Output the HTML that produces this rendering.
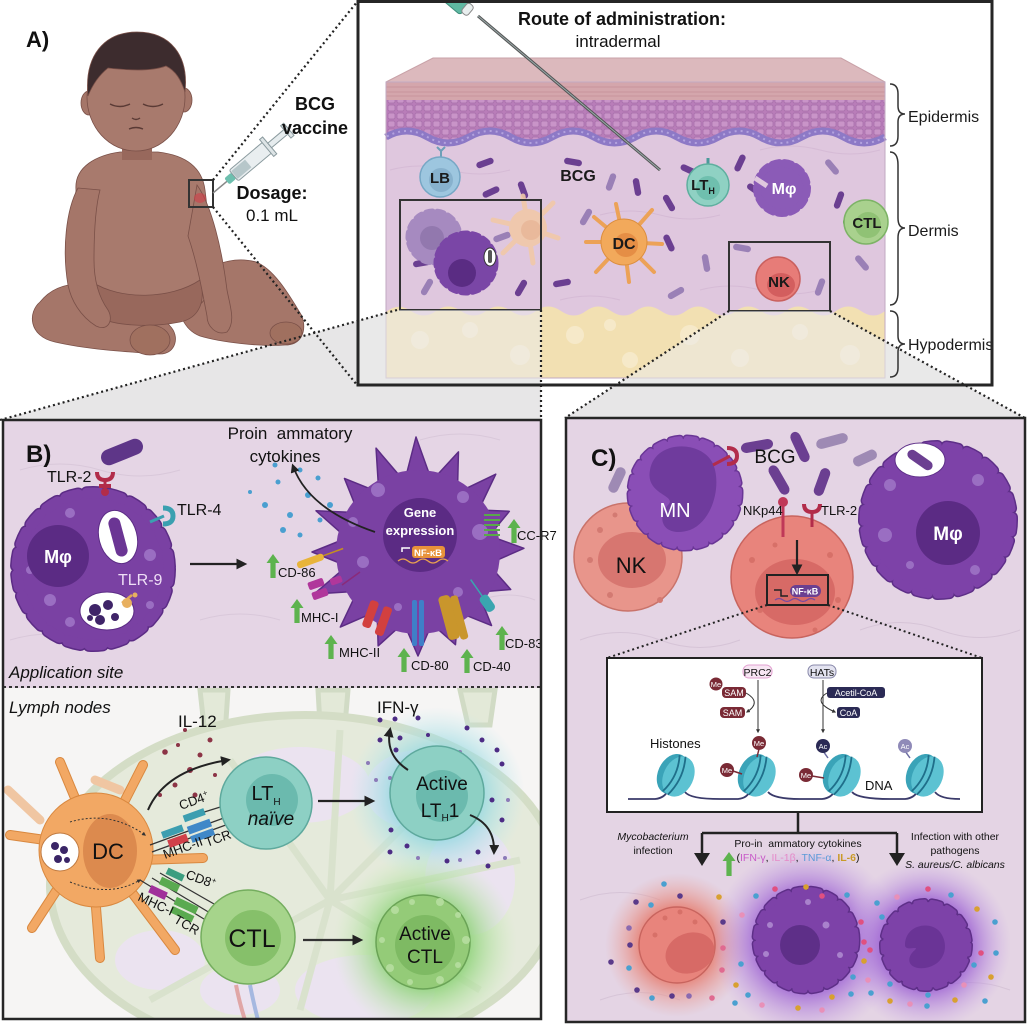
<!DOCTYPE html>
<html><head><meta charset="utf-8">
<style>
html,body{margin:0;padding:0;background:#fff;}
svg{display:block;font-family:"Liberation Sans",Arial,sans-serif;}
</style></head><body>
<svg width="1027" height="1024" viewBox="0 0 1027 1024" xmlns="http://www.w3.org/2000/svg">
<defs>
 <pattern id="cells" width="9" height="8" patternUnits="userSpaceOnUse">
   <rect width="9" height="8" fill="#b97db9"/>
   <rect x="1" y="1" width="7" height="6" rx="1.5" fill="#c994c8" stroke="#a66ea9" stroke-width="0.7"/>
 </pattern>
 <radialGradient id="gCyan"><stop offset="0.45" stop-color="#8fd6df" stop-opacity="0.9"/><stop offset="1" stop-color="#bfe9ee" stop-opacity="0"/></radialGradient>
 <radialGradient id="gGreen"><stop offset="0.45" stop-color="#8fd27a" stop-opacity="0.95"/><stop offset="1" stop-color="#c8ecb8" stop-opacity="0"/></radialGradient>
 <radialGradient id="gRed"><stop offset="0.5" stop-color="#e77f72" stop-opacity="0.9"/><stop offset="1" stop-color="#e9a7a0" stop-opacity="0"/></radialGradient>
 <radialGradient id="gPurp"><stop offset="0.5" stop-color="#9b5fd2" stop-opacity="0.9"/><stop offset="1" stop-color="#c9a6e6" stop-opacity="0"/></radialGradient>
 <marker id="ah" viewBox="0 0 10 10" refX="7" refY="5" markerWidth="5" markerHeight="5" orient="auto"><path d="M0,0 L10,5 L0,10 Z" fill="#222"/></marker>
 <marker id="ahs" viewBox="0 0 10 10" refX="7" refY="5" markerWidth="4" markerHeight="4" orient="auto"><path d="M0,0 L10,5 L0,10 Z" fill="#333"/></marker>
 <g id="ga"><path d="M-2.6,0 L2.6,0 L2.6,-15 L6.5,-15 L0,-24 L-6.5,-15 L-2.6,-15 Z" fill="#5db34e"/></g>
 <g id="rod"><rect x="-9" y="-3.2" width="18" height="6.4" rx="3.2"/></g>
 <clipPath id="clipBL"><rect x="3" y="688" width="537" height="331"/></clipPath>
 <clipPath id="clipC"><rect x="566" y="419" width="458" height="602"/></clipPath>
 <clipPath id="clipA"><rect x="358" y="2" width="634" height="383"/></clipPath>
</defs>

<rect width="1027" height="1024" fill="#fff"/>

<!-- ============ PANEL A ============ -->
<rect x="358" y="1.5" width="634" height="383.5" fill="#fff"/>
<!-- gray projections (opaque) -->
<polygon points="0,420 397,310 541,310 541,420" fill="#e7e6e7"/>
<polygon points="729,311 830,311 1025,418 565,418" fill="#e7e6e7"/>

<!-- skin block -->
<polygon points="386,82 433,58 841,58 885,82" fill="#dcb9bd" stroke="#c9a2a8" stroke-width="1"/>
<rect x="386" y="82" width="499" height="296" fill="#dfc7de"/>
<rect x="386" y="82" width="499" height="18" fill="#d4a6ac"/>
<path d="M386,87 H885 M386,92 H885 M386,96 H885" stroke="#c48f98" stroke-width="0.8"/>
<path d="M386,100 L885,100 L885,140 Q864,152 843.4,140 T801.8,140 T760.2,140 T718.6,140 T677,140 T635.4,140 T593.8,140 T552.2,140 T510.6,140 T469,140 T427.4,140 T386,140 Z" fill="url(#cells)"/>
<path d="M885,137 Q864,149 843.4,137 T801.8,137 T760.2,137 T718.6,137 T677,137 T635.4,137 T593.8,137 T552.2,137 T510.6,137 T469,137 T427.4,137 T386,137" fill="none" stroke="#8d79c6" stroke-width="7"/>
<path d="M885,137 Q864,149 843.4,137 T801.8,137 T760.2,137 T718.6,137 T677,137 T635.4,137 T593.8,137 T552.2,137 T510.6,137 T469,137 T427.4,137 T386,137" fill="none" stroke="#b3a2de" stroke-width="2" stroke-dasharray="2 4"/>
<g stroke="#d3b8d3" stroke-width="1" fill="none" opacity="0.8">
 <path d="M390,170 q30,-8 60,0 t60,0"/><path d="M600,215 q30,-8 60,0 t60,0"/><path d="M700,290 q30,-8 60,0 t60,0"/><path d="M560,300 q30,-8 60,0"/><path d="M760,150 q30,-8 60,0 t60,0"/>
</g>
<path d="M386,378 L386,312 Q398,302 411,311 T436,311 T461,311 T486,311 T511,311 T536,311 T561,311 T586,311 T611,311 T636,311 T661,311 T686,311 T711,311 T736,311 T761,311 T786,311 T811,311 T836,311 T861,311 T885,311 L885,378 Z" fill="#f2e0b2"/>
<g fill="#f7ebcc" opacity="0.9">
 <circle cx="420" cy="340" r="9"/><circle cx="470" cy="330" r="8"/><circle cx="520" cy="355" r="10"/><circle cx="575" cy="335" r="9"/><circle cx="630" cy="360" r="8"/><circle cx="690" cy="335" r="10"/><circle cx="740" cy="358" r="9"/><circle cx="800" cy="332" r="8"/><circle cx="850" cy="355" r="10"/><circle cx="610" cy="325" r="6"/>
</g>
<rect x="386" y="82" width="499" height="296" fill="none" stroke="#c2aac2" stroke-width="1"/>

<g fill="#6b3f91">
 <use href="#rod" transform="translate(485,163) rotate(-20)"/>
 <use href="#rod" transform="translate(573,162) rotate(10)"/>
 <use href="#rod" transform="translate(491,192) rotate(-25)"/>
 <use href="#rod" transform="translate(523,190) rotate(70)"/>
 <use href="#rod" transform="translate(637,187) rotate(80)"/>
 <use href="#rod" transform="translate(689,170) rotate(25)"/>
 <use href="#rod" transform="translate(740,163) rotate(-65)"/>
 <use href="#rod" transform="translate(669,203) rotate(60)"/>
 <use href="#rod" transform="translate(755,190) rotate(35)"/>
 <use href="#rod" transform="translate(839,200) rotate(-70)"/>
 <use href="#rod" transform="translate(669,243) rotate(65)"/>
 <use href="#rod" transform="translate(521,288) rotate(-60)"/>
 <use href="#rod" transform="translate(562,283) rotate(-10)"/>
 <use href="#rod" transform="translate(422,263) rotate(-10)"/>
</g>
<g fill="#9a80b6">
 <use href="#rod" transform="translate(611,182) rotate(-70)"/>
 <use href="#rod" transform="translate(832,167) rotate(50)"/>
 <use href="#rod" transform="translate(586,217) rotate(-60)"/>
 <use href="#rod" transform="translate(502,237) rotate(-20)"/>
 <use href="#rod" transform="translate(706,263) rotate(80)"/>
 <use href="#rod" transform="translate(676,293) rotate(-30)"/>
 <use href="#rod" transform="translate(862,263) rotate(50)"/>
 <use href="#rod" transform="translate(742,248) rotate(10)"/>
 <use href="#rod" transform="translate(820,287) rotate(-70)"/>
 <use href="#rod" transform="translate(427,287) rotate(-60)"/>
</g>

<!-- needle -->
<line x1="478" y1="16" x2="660" y2="170" stroke="#555" stroke-width="3"/>
<line x1="478" y1="16" x2="660" y2="170" stroke="#9aa" stroke-width="1"/>
<g transform="translate(466,8) rotate(40)"><rect x="-40" y="-9" width="40" height="18" rx="3" fill="#5fb8a2" stroke="#3c8c7a"/><rect x="-2" y="-6" width="8" height="12" rx="3" fill="#e8eeee" stroke="#888"/></g>

<!-- LB -->
<path d="M441,157 v-6 m0,0 l-4,-4 m4,4 l4,-4" stroke="#6d9fb8" stroke-width="2" fill="none"/>
<circle cx="440" cy="177" r="20" fill="#9dc6df" stroke="#76a7c5" stroke-width="1.5"/>
<circle cx="441" cy="180" r="12" fill="#87b1cd"/>
<text x="440" y="183" font-size="15" font-weight="bold" text-anchor="middle" fill="#1a1a1a">LB</text>
<text x="578" y="181" font-size="16" font-weight="bold" text-anchor="middle" fill="#1a1a1a">BCG</text>
<g transform="translate(528,228)" stroke="#f1c9a8" stroke-width="5" stroke-linecap="round" opacity="0.9">
 <line x1="0" y1="0" x2="-5" y2="-32"/><line x1="0" y1="0" x2="25" y2="-25"/><line x1="0" y1="0" x2="30" y2="10"/><line x1="0" y1="0" x2="-35" y2="-8"/><line x1="0" y1="0" x2="-25" y2="25"/><line x1="0" y1="0" x2="5" y2="35"/>
 <circle r="19" fill="#f1c9a8" stroke="none"/><circle cx="3" cy="2" r="10" fill="#ebb894" stroke="none"/>
</g>
<g transform="translate(624,242)" stroke="#eca257" stroke-width="4" stroke-linecap="round">
 <line x1="0" y1="0" x2="-8" y2="-38"/><line x1="0" y1="0" x2="28" y2="-32"/><line x1="0" y1="0" x2="38" y2="2"/><line x1="0" y1="0" x2="30" y2="30"/><line x1="0" y1="0" x2="5" y2="40"/><line x1="0" y1="0" x2="-28" y2="30"/><line x1="0" y1="0" x2="-38" y2="0"/><line x1="0" y1="0" x2="-30" y2="-25"/>
 <circle r="23" fill="#f2a95b" stroke="#dc8e3e" stroke-width="1"/><circle cx="2" cy="3" r="12" fill="#e58e45" stroke="none"/>
</g>
<text x="624" y="249" font-size="16" font-weight="bold" text-anchor="middle" fill="#1a1a1a">DC</text>
<line x1="708" y1="158" x2="708" y2="166" stroke="#4a9a9a" stroke-width="3"/>
<circle cx="708" cy="185" r="21" fill="#8fd1c3" stroke="#5eaf9f" stroke-width="1.5"/>
<circle cx="708" cy="188" r="12" fill="#6fbfae"/>
<text x="703" y="190" font-size="15" font-weight="bold" text-anchor="middle" fill="#1a1a1a">LT<tspan font-size="9" dy="4">H</tspan></text>
<circle cx="782" cy="188" r="25" fill="#8b5bb7" stroke="#8b5bb7" stroke-width="8" stroke-dasharray="7 5" stroke-linecap="round"/>
<path d="M755,178 l12,8" stroke="#dfc7de" stroke-width="5"/>
<text x="784" y="194" font-size="16" font-weight="bold" text-anchor="middle" fill="#fff">Mφ</text>
<line x1="843" y1="222" x2="852" y2="222" stroke="#5a9a5a" stroke-width="3"/>
<circle cx="866" cy="222" r="22" fill="#a9d18e" stroke="#7db366" stroke-width="1.5"/>
<circle cx="868" cy="225" r="13" fill="#90c275"/>
<text x="867" y="228" font-size="15" font-weight="bold" text-anchor="middle" fill="#1a1a1a">CTL</text>
<circle cx="434" cy="237" r="25" fill="#a68ac0" stroke="#a68ac0" stroke-width="7" stroke-dasharray="6 5" stroke-linecap="round"/>
<circle cx="432" cy="238" r="12" fill="#9278ae"/>
<circle cx="466" cy="263" r="29" fill="#7a46a6" stroke="#7a46a6" stroke-width="7" stroke-dasharray="6 5" stroke-linecap="round"/>
<circle cx="462" cy="273" r="14" fill="#5a2c83"/>
<ellipse cx="490" cy="257" rx="6" ry="9" fill="#fff" stroke="#333" stroke-width="1"/>
<rect x="488" y="250" width="4" height="13" rx="2" fill="#555"/>
<rect x="400" y="200" width="141" height="110" fill="none" stroke="#333" stroke-width="2"/>
<circle cx="778" cy="279" r="22" fill="#e77c78" stroke="#c9605e" stroke-width="1.5"/>
<ellipse cx="781" cy="285" rx="14" ry="12" fill="#d35e5e"/>
<text x="779" y="287" font-size="15" font-weight="bold" text-anchor="middle" fill="#1a1a1a">NK</text>
<rect x="729" y="242" width="101" height="69" fill="none" stroke="#333" stroke-width="2"/>

<!-- gray overlay on skin (between projection lines) -->
<g clip-path="url(#clipA)">
 <polygon points="357,321 397,310 541,310 541,385 357,385" fill="#ebebeb" opacity="0.55"/>
 <polygon points="729,311 830,311 1025,418 565,418" fill="#ebebeb" opacity="0.55"/>
</g>

<g fill="none" stroke="#333" stroke-width="1.5">
 <path d="M890,84 Q898,84 898,94 L898,106 Q898,114 905,114 Q898,114 898,122 L898,136 Q898,146 890,146"/>
 <path d="M890,152 Q898,152 898,165 L898,218 Q898,228 905,228 Q898,228 898,238 L898,292 Q898,305 890,305"/>
 <path d="M890,311 Q898,311 898,320 L898,336 Q898,344 905,344 Q898,344 898,352 L898,368 Q898,377 890,377"/>
</g>
<text x="908" y="122" font-size="16" fill="#1a1a1a">Epidermis</text>
<text x="908" y="236" font-size="16" fill="#1a1a1a">Dermis</text>
<text x="908" y="350" font-size="16" fill="#1a1a1a">Hypodermis</text>

<text x="622" y="25" font-size="18" font-weight="bold" text-anchor="middle" fill="#111">Route of administration:</text>
<text x="618" y="47" font-size="17" text-anchor="middle" fill="#111">intradermal</text>

<rect x="358" y="1.5" width="634" height="383.5" fill="none" stroke="#262626" stroke-width="3"/>

<!-- baby -->
<g stroke="#7a5048" stroke-width="0.8">
 <path d="M40,302 C28,312 28,336 55,342 C90,350 130,352 160,354 C176,354 180,336 170,326 C150,300 110,286 80,284 C60,284 48,292 40,302 Z" fill="#a57669"/>
 <path d="M180,292 C200,266 232,255 256,262 C276,270 292,300 302,316 C307,332 301,345 285,345 C260,347 220,342 200,336 C184,330 175,310 180,292 Z" fill="#a57669"/>
 <path d="M76,190 C74,166 98,155 120,152 L158,152 C184,155 202,166 205,190 C210,230 213,270 204,300 C194,318 100,322 84,300 C70,276 72,230 76,190 Z" fill="#a87a6d"/>
 <path d="M92,282 C120,300 170,300 200,280 C206,300 200,318 180,322 C150,328 110,326 95,315 C88,305 88,292 92,282 Z" fill="#98685c"/>
 <path d="M78,188 C66,210 62,250 68,285 C71,300 80,316 96,326 C108,332 114,320 108,310 C98,296 94,280 94,260 C94,230 96,205 100,190 Z" fill="#a57669"/>
 <path d="M197,185 C212,206 222,250 227,290 C230,306 236,322 227,332 C216,336 207,326 207,316 C202,290 197,262 188,236 Z" fill="#a57669"/>
 <ellipse cx="150" cy="340" rx="20" ry="15" fill="#a0705f"/>
 <ellipse cx="286" cy="333" rx="16" ry="11" fill="#a0705f"/>
 <rect x="122" y="140" width="30" height="20" fill="#98685c" stroke="none"/>
 <ellipse cx="89" cy="103" rx="8" ry="12" fill="#a57669"/>
 <ellipse cx="184" cy="100" rx="8" ry="12" fill="#a57669"/>
 <ellipse cx="136" cy="97" rx="49" ry="54" fill="#a87a6d"/>
 <path d="M88,96 C84,56 104,32 137,32 C170,32 189,55 185,92 C181,80 176,71 166,66 C150,72 126,70 108,68 C98,76 92,86 88,96 Z" fill="#3d2c2e"/>
</g>
<g fill="none" stroke="#5a3a35" stroke-width="1.4">
 <path d="M110,104 Q120,109 130,104"/><path d="M143,104 Q153,109 163,104"/>
 <path d="M132,118 Q136,121 140,118"/><path d="M129,129 Q136,126 143,129"/>
</g>
<ellipse cx="200" cy="198" rx="6" ry="5" fill="#d0404a" opacity="0.6"/>
<rect x="189" y="180" width="24" height="27" fill="none" stroke="#333" stroke-width="2"/>
<g transform="translate(213,193) rotate(-40)">
 <line x1="0" y1="0" x2="20" y2="0" stroke="#888" stroke-width="1.5"/>
 <rect x="18" y="-4" width="9" height="8" rx="2" fill="#6dbfae"/>
 <rect x="27" y="-7" width="45" height="14" rx="2" fill="#e9eef0" stroke="#8a9a9e"/>
 <rect x="28" y="-5" width="18" height="10" fill="#b7c7ca"/>
 <rect x="70" y="-11" width="4" height="22" fill="#dde4e6" stroke="#8a9a9e"/>
 <rect x="74" y="-3" width="22" height="6" fill="#e6ecee" stroke="#8a9a9e"/>
 <rect x="95" y="-8" width="4" height="16" fill="#dde4e6" stroke="#8a9a9e"/>
</g>
<text x="26" y="47" font-size="22" font-weight="bold" fill="#111">A)</text>
<text x="315" y="110" font-size="18" font-weight="bold" text-anchor="middle" fill="#111">BCG</text>
<text x="315" y="134" font-size="18" font-weight="bold" text-anchor="middle" fill="#111">vaccine</text>
<text x="272" y="199" font-size="18" font-weight="bold" text-anchor="middle" fill="#111">Dosage:</text>
<text x="272" y="221" font-size="17" text-anchor="middle" fill="#111">0.1 mL</text>

<g stroke="#222" stroke-width="2.2" stroke-dasharray="2 3" fill="none">
 <line x1="213" y1="180" x2="357" y2="2"/>
 <line x1="213" y1="207" x2="357" y2="385"/>
 <line x1="397" y1="310" x2="0" y2="420"/>
 <line x1="541" y1="310" x2="541" y2="420"/>
 <line x1="729" y1="311" x2="565" y2="418"/>
 <line x1="830" y1="311" x2="1025" y2="418"/>
</g>

<!-- ============ PANEL B ============ -->
<rect x="3" y="420" width="538" height="268" fill="#e5d5e5"/>
<rect x="3" y="688" width="538" height="331" fill="#f6f5f4"/>
<g fill="none" stroke="#d9c8da" stroke-width="1">
 <path d="M20,470 q40,-12 80,0 t80,0"/><path d="M200,620 q40,-12 80,0"/><path d="M420,440 q40,-12 80,0"/><path d="M10,640 q40,-12 80,0"/><path d="M480,600 q30,-10 55,0"/>
</g>
<circle cx="93" cy="569" r="76" fill="#7a41a3" stroke="#5c2c85" stroke-width="14" stroke-dasharray="13 9" stroke-linecap="round"/>
<circle cx="93" cy="569" r="76" fill="#7a41a3" stroke="#7a41a3" stroke-width="11" stroke-dasharray="13 9" stroke-linecap="round"/>
<g fill="#9a6ec2"><circle cx="70" cy="513" r="5"/><circle cx="150" cy="555" r="6"/><circle cx="50" cy="600" r="6"/><circle cx="70" cy="622" r="5"/><circle cx="150" cy="605" r="4"/><circle cx="30" cy="570" r="4"/></g>
<circle cx="58" cy="556" r="31" fill="#5b2b84"/>
<text x="58" y="563" font-size="18" font-weight="bold" text-anchor="middle" fill="#fff">Mφ</text>
<ellipse cx="118" cy="537" rx="19" ry="27" transform="rotate(-15 118 537)" fill="#fff" stroke="#5c2c85"/>
<rect x="112" y="517" width="12" height="40" rx="6" transform="rotate(-15 118 537)" fill="#6b3594"/>
<ellipse cx="107" cy="611" rx="27" ry="19" fill="#fff" stroke="#5c2c85"/>
<g fill="#3f2468"><circle cx="95" cy="610" r="6"/><circle cx="108" cy="605" r="5"/><circle cx="100" cy="620" r="5"/><circle cx="115" cy="617" r="4"/><circle cx="90" cy="618" r="3"/></g>
<path d="M122,603 l10,-8" stroke="#e0a858" stroke-width="2.5"/><circle cx="127" cy="603" r="5" fill="#e8b060"/><circle cx="135" cy="595" r="2.5" fill="#e8b060"/>
<text x="118" y="585" font-size="16" fill="#efdff6">TLR-9</text>
<path d="M105,494 L105,478" stroke="#b22c4a" stroke-width="3"/>
<path d="M97,472 q0,8 8,8 q8,0 8,-8 M99,486 l12,0" stroke="#b22c4a" stroke-width="4" fill="none"/>
<circle cx="105" cy="492" r="4" fill="#b22c4a"/>
<rect x="100" y="444" width="44" height="16" rx="8" transform="rotate(-22 122 452)" fill="#5e3688"/>
<text x="47" y="482" font-size="16" fill="#111">TLR-2</text>
<path d="M150,522 l14,-6" stroke="#3aa0b0" stroke-width="3"/>
<path d="M163,508 q10,0 10,8 q0,8 -10,8" stroke="#3aa0b0" stroke-width="5" fill="none"/>
<text x="177" y="515" font-size="16" fill="#111">TLR-4</text>
<line x1="190" y1="564" x2="244" y2="564" stroke="#222" stroke-width="2.2" marker-end="url(#ah)"/>

<g transform="translate(418,552)">
 <g fill="#7a41a3" stroke="#5c2c85" stroke-width="1.5" stroke-linejoin="round">
  <path d="M-12,-76 L-2,-115 L12,-76Z" transform="rotate(0)"/>
  <path d="M-12,-76 L0,-108 L12,-76Z" transform="rotate(22)"/>
  <path d="M-12,-76 L0,-110 L12,-76Z" transform="rotate(45)"/>
  <path d="M-12,-76 L0,-100 L12,-76Z" transform="rotate(66)"/>
  <path d="M-12,-76 L0,-106 L12,-76Z" transform="rotate(88)"/>
  <path d="M-12,-76 L0,-100 L12,-76Z" transform="rotate(112)"/>
  <path d="M-12,-76 L0,-104 L12,-76Z" transform="rotate(135)"/>
  <path d="M-12,-76 L0,-100 L12,-76Z" transform="rotate(158)"/>
  <path d="M-12,-76 L0,-104 L12,-76Z" transform="rotate(180)"/>
  <path d="M-12,-76 L0,-102 L12,-76Z" transform="rotate(203)"/>
  <path d="M-12,-76 L0,-108 L12,-76Z" transform="rotate(226)"/>
  <path d="M-12,-76 L0,-112 L12,-76Z" transform="rotate(248)"/>
  <path d="M-12,-76 L0,-106 L12,-76Z" transform="rotate(270)"/>
  <path d="M-12,-76 L0,-110 L12,-76Z" transform="rotate(292)"/>
  <path d="M-12,-76 L0,-104 L12,-76Z" transform="rotate(315)"/>
  <path d="M-12,-76 L0,-112 L12,-76Z" transform="rotate(338)"/>
 </g>
 <circle r="82" fill="#7a41a3"/>
 <g fill="#9a6ec2"><circle cx="-40" cy="-62" r="7"/><circle cx="45" cy="-55" r="6"/><circle cx="62" cy="-20" r="8"/><circle cx="-55" cy="10" r="6"/><circle cx="40" cy="40" r="5"/><circle cx="-20" cy="55" r="4"/><circle cx="-65" cy="-30" r="5"/></g>
</g>
<circle cx="420" cy="535" r="37" fill="#5b2b84"/>
<text x="420" y="517" font-size="13" font-weight="bold" text-anchor="middle" fill="#fff">Gene</text>
<text x="420" y="535" font-size="13" font-weight="bold" text-anchor="middle" fill="#fff">expression</text>
<rect x="412" y="546" width="33" height="12" rx="3" fill="#e8923a"/>
<text x="428" y="556" font-size="9.5" font-weight="bold" text-anchor="middle" fill="#fff">NF-κB</text>
<path d="M410,548 L402,548 L402,552" stroke="#fff" stroke-width="1.5" fill="none"/>
<path d="M398,561 q5,-4 10,0 t10,0 t10,0 t10,0 t10,0" stroke="#e8a050" stroke-width="1.3" fill="none"/>
<g fill="#4a9fd0"><circle cx="265" cy="505" r="3"/><circle cx="278" cy="482" r="2.5"/><circle cx="290" cy="515" r="3"/><circle cx="300" cy="470" r="2.5"/><circle cx="308" cy="495" r="3"/><circle cx="320" cy="520" r="2.5"/><circle cx="283" cy="530" r="3"/><circle cx="275" cy="465" r="2.5"/><circle cx="318" cy="478" r="2.5"/><circle cx="330" cy="505" r="3"/><circle cx="250" cy="492" r="2"/><circle cx="300" cy="535" r="2.5"/></g>
<path d="M375,532 C340,520 305,500 293,466" stroke="#222" stroke-width="1.8" fill="none" marker-end="url(#ah)"/>
<text x="290" y="439" font-size="17" text-anchor="middle" fill="#111">Proin&#160;&#160;ammatory</text>
<text x="285" y="462" font-size="17" text-anchor="middle" fill="#111">cytokines</text>
<g transform="rotate(-20 320 558)"><rect x="296" y="554" width="28" height="7" rx="3" fill="#e8b43a"/><line x1="324" y1="557" x2="345" y2="557" stroke="#c49020" stroke-width="1.5"/></g>
<g fill="#b0379b"><rect x="308" y="580" width="16" height="8" rx="2" transform="rotate(-20 316 584)"/><rect x="312" y="590" width="16" height="8" rx="2" transform="rotate(-20 320 594)"/><rect x="330" y="577" width="12" height="7" rx="2" transform="rotate(-20 336 580)"/></g>
<line x1="342" y1="585" x2="360" y2="572" stroke="#8a2a7a" stroke-width="1.5"/>
<g fill="#d2403f"><rect x="366" y="600" width="9" height="28" rx="3" transform="rotate(20 370 614)"/><rect x="379" y="606" width="9" height="30" rx="3" transform="rotate(20 383 621)"/></g>
<g fill="#3f7fc8"><rect x="412" y="600" width="5" height="46" rx="2"/><rect x="419" y="600" width="5" height="46" rx="2"/></g>
<g fill="#c9962c"><rect x="443" y="595" width="12" height="45" rx="4" transform="rotate(-15 449 617)"/><rect x="455" y="595" width="8" height="45" rx="3" transform="rotate(-15 459 617)"/></g>
<g transform="rotate(-35 485 600)"><rect x="480" y="595" width="10" height="18" rx="4" fill="#3aa5b0"/><line x1="485" y1="595" x2="485" y2="575" stroke="#3aa5b0" stroke-width="1.5"/></g>
<path d="M484,515 h16 M484,520 h16 M484,525 h16 M484,530 h16 M484,535 h16" stroke="#5aa84a" stroke-width="2"/>
<use href="#ga" x="273" y="578"/><text x="278" y="577" font-size="13" fill="#111">CD-86</text>
<use href="#ga" x="297" y="623"/><text x="301" y="622" font-size="13" fill="#111">MHC-I</text>
<use href="#ga" x="331" y="659"/><text x="339" y="657" font-size="13" fill="#111">MHC-II</text>
<use href="#ga" x="404" y="672"/><text x="411" y="670" font-size="13" fill="#111">CD-80</text>
<use href="#ga" x="467" y="673"/><text x="473" y="671" font-size="13" fill="#111">CD-40</text>
<use href="#ga" x="502" y="650"/><text x="505" y="648" font-size="13" fill="#111">CD-83</text>
<use href="#ga" x="514" y="543"/><text x="517" y="540" font-size="13" fill="#111">CC-R7</text>
<text x="26" y="462" font-size="24" font-weight="bold" fill="#111">B)</text>
<text x="9" y="678" font-size="17" font-style="italic" fill="#111">Application site</text>
<line x1="3" y1="687" x2="541" y2="687" stroke="#333" stroke-width="2" stroke-dasharray="3 3"/>

<g clip-path="url(#clipBL)">
 <g fill="#e3e9d8" stroke="#d1dbc5" stroke-width="5">
  <path d="M200,690 L205,735 L225,735 L228,690Z"/><path d="M318,690 L320,725 L345,725 L348,690Z"/><path d="M460,690 L468,725 L490,725 L495,690Z"/>
 </g>
 <ellipse cx="305" cy="885" rx="255" ry="170" fill="#e5eadb" stroke="#d4ddc6" stroke-width="8"/>
 <g fill="#ebe3f0">
  <ellipse cx="300" cy="785" rx="70" ry="38"/><ellipse cx="420" cy="790" rx="55" ry="40"/><ellipse cx="365" cy="990" rx="70" ry="35"/><ellipse cx="470" cy="880" rx="45" ry="55"/><ellipse cx="160" cy="960" rx="45" ry="30"/><ellipse cx="240" cy="990" rx="40" ry="25"/>
 </g>
 <g stroke="#d9e2cd" stroke-width="7" fill="none">
  <path d="M330,900 L230,760"/><path d="M330,900 L340,730"/><path d="M330,900 L470,760"/><path d="M330,900 L520,860"/><path d="M330,900 L480,990"/><path d="M330,900 L300,1010"/><path d="M330,900 L150,1000"/>
 </g>
 <path d="M236,985 Q240,1005 245,1020" stroke="#e0a6a6" stroke-width="4" fill="none"/>
 <path d="M250,985 Q254,1005 258,1020" stroke="#a6b8e0" stroke-width="4" fill="none"/>
 <circle cx="437" cy="795" r="88" fill="url(#gCyan)"/>
 <circle cx="425" cy="944" r="92" fill="url(#gGreen)"/>
</g>
<g fill="#8c3446"><circle cx="165" cy="752" r="2.8"/><circle cx="178" cy="745" r="2"/><circle cx="190" cy="770" r="3"/><circle cx="200" cy="755" r="2.5"/><circle cx="175" cy="785" r="2.5"/><circle cx="210" cy="740" r="2.5"/><circle cx="215" cy="775" r="2"/><circle cx="160" cy="795" r="2"/><circle cx="195" cy="795" r="2.5"/><circle cx="185" cy="730" r="2"/></g>
<g fill="#4d2c85"><circle cx="380" cy="720" r="2.5"/><circle cx="395" cy="719" r="2.5"/><circle cx="418" cy="718" r="2.5"/><circle cx="380" cy="740" r="2.5"/><circle cx="400" cy="738" r="2.5"/><circle cx="428" cy="735" r="2"/><circle cx="467" cy="728" r="2.5"/><circle cx="482" cy="740" r="2.5"/><circle cx="497" cy="750" r="2.5"/><circle cx="502" cy="764" r="2.5"/><circle cx="492" cy="800" r="2.5"/><circle cx="502" cy="820" r="2.5"/><circle cx="391" cy="830" r="2.5"/><circle cx="407" cy="846" r="2.5"/><circle cx="390" cy="852" r="2.5"/><circle cx="447" cy="861" r="2.5"/><circle cx="478" cy="852" r="2.5"/><circle cx="488" cy="866" r="2.5"/><circle cx="396" cy="750" r="2.5"/></g>
<g fill="#8c7ab8"><circle cx="368" cy="763" r="2"/><circle cx="376" cy="780" r="2"/><circle cx="390" cy="778" r="2"/><circle cx="460" cy="752" r="2"/><circle cx="508" cy="800" r="2"/><circle cx="460" cy="860" r="2"/><circle cx="418" cy="858" r="2"/><circle cx="505" cy="858" r="2"/></g>
<g stroke-linecap="round">
 <g stroke="#f0c6a2" stroke-width="9"><line x1="40" y1="820" x2="8" y2="790"/><line x1="120" y1="790" x2="95" y2="780"/></g>
 <g stroke="#d9883f" stroke-width="10">
  <line x1="80" y1="810" x2="60" y2="762"/><line x1="120" y1="810" x2="143" y2="765"/><line x1="140" y1="860" x2="203" y2="858"/><line x1="130" y1="890" x2="175" y2="950"/><line x1="95" y1="895" x2="100" y2="958"/><line x1="60" y1="885" x2="32" y2="928"/><line x1="45" y1="840" x2="10" y2="835"/>
 </g>
 <g stroke="#f2a864" stroke-width="8">
  <line x1="80" y1="810" x2="60" y2="762"/><line x1="120" y1="810" x2="143" y2="765"/><line x1="140" y1="860" x2="203" y2="858"/><line x1="130" y1="890" x2="175" y2="950"/><line x1="95" y1="895" x2="100" y2="958"/><line x1="60" y1="885" x2="32" y2="928"/><line x1="45" y1="840" x2="10" y2="835"/>
 </g>
</g>
<circle cx="96" cy="850" r="57" fill="#f2a864" stroke="#d9883f" stroke-width="1"/>
<ellipse cx="110" cy="851" rx="27" ry="37" fill="#dc8a4e"/>
<circle cx="60" cy="852" r="19" fill="#fff" stroke="#c07a40"/>
<g fill="#3a2566"><circle cx="55" cy="846" r="4"/><circle cx="64" cy="850" r="4"/><circle cx="58" cy="859" r="4"/><circle cx="67" cy="860" r="3"/></g>
<text x="108" y="859" font-size="22" text-anchor="middle" fill="#111">DC</text>
<path d="M70,822 Q110,810 145,835" stroke="#333" stroke-width="1" stroke-dasharray="2 2" fill="none" marker-end="url(#ahs)"/>
<path d="M70,882 Q110,898 140,880" stroke="#333" stroke-width="1" stroke-dasharray="2 2" fill="none" marker-end="url(#ahs)"/>
<path d="M148,810 Q165,770 228,760" stroke="#222" stroke-width="2" fill="none" marker-end="url(#ah)"/>
<g stroke="#333" stroke-width="1.2"><line x1="150" y1="845" x2="232" y2="815"/><line x1="152" y1="852" x2="234" y2="822"/><line x1="185" y1="818" x2="230" y2="804"/></g>
<g transform="rotate(-20 190 830)"><rect x="162" y="822" width="22" height="7" fill="#3c9eb0"/><rect x="188" y="814" width="22" height="7" fill="#3c9eb0"/><rect x="165" y="832" width="20" height="8" fill="#d0404a"/><rect x="188" y="826" width="24" height="8" fill="#4088c8"/><rect x="188" y="836" width="24" height="7" fill="#4088c8"/></g>
<g stroke="#333" stroke-width="1.2"><line x1="140" y1="880" x2="222" y2="930"/><line x1="152" y1="878" x2="225" y2="922"/><line x1="160" y1="873" x2="228" y2="912"/></g>
<g transform="rotate(25 180 895)"><rect x="158" y="875" width="18" height="7" fill="#3c9e80"/><rect x="156" y="886" width="20" height="8" fill="#5aaa50"/><rect x="150" y="898" width="18" height="8" fill="#a0309a"/><rect x="178" y="898" width="24" height="8" fill="#5aaa50"/><rect x="178" y="908" width="24" height="7" fill="#5aaa50"/></g>
<text font-size="13" fill="#111" transform="translate(181,810) rotate(-20)">CD4<tspan font-size="8" dy="-5">+</tspan></text>
<text font-size="13" fill="#111" transform="translate(165,859) rotate(-20)">MHC-II</text>
<text font-size="13" fill="#111" transform="translate(207,847) rotate(-20)">TCR</text>
<text font-size="13" fill="#111" transform="translate(185,878) rotate(20)">CD8<tspan font-size="8" dy="-5">+</tspan></text>
<text font-size="13" fill="#111" transform="translate(137,900) rotate(25)">MHC-I</text>
<text font-size="13" fill="#111" transform="translate(173,922) rotate(30)">TCR</text>
<text x="178" y="727" font-size="17" fill="#111">IL-12</text>
<text x="9" y="713" font-size="17" font-style="italic" fill="#111">Lymph nodes</text>
<circle cx="266" cy="803" r="46" fill="#8dd0c4" stroke="#5ea99d" stroke-width="1.5"/>
<circle cx="272" cy="800" r="26" fill="#6bbaae"/>
<text x="266" y="800" font-size="20" text-anchor="middle" fill="#111">LT<tspan font-size="10" dy="5">H</tspan></text>
<text x="271" y="825" font-size="19" font-style="italic" text-anchor="middle" fill="#111">naïve</text>
<line x1="318" y1="801" x2="372" y2="801" stroke="#222" stroke-width="2.2" marker-end="url(#ah)"/>
<circle cx="437" cy="793" r="47" fill="#8dd0c4" stroke="#5ea99d" stroke-width="1.5"/>
<circle cx="442" cy="796" r="26" fill="#6bbaae"/>
<text x="442" y="790" font-size="19" text-anchor="middle" fill="#111">Active</text>
<text x="440" y="817" font-size="19" text-anchor="middle" fill="#111">LT<tspan font-size="10" dy="4">H</tspan><tspan dy="-4">1</tspan></text>
<path d="M408,770 Q385,755 390,730" stroke="#222" stroke-width="2" fill="none" marker-end="url(#ah)"/>
<path d="M470,815 Q495,825 494,852" stroke="#222" stroke-width="2" fill="none" marker-end="url(#ah)"/>
<text x="377" y="713" font-size="17" fill="#111">IFN-γ</text>
<circle cx="248" cy="937" r="47" fill="#a6d48b" stroke="#74ad5e" stroke-width="1.5"/>
<circle cx="253" cy="938" r="28" fill="#86c06a"/>
<text x="252" y="947" font-size="25" text-anchor="middle" fill="#111">CTL</text>
<line x1="303" y1="940" x2="360" y2="940" stroke="#333" stroke-width="2.2" marker-end="url(#ah)"/>
<circle cx="423" cy="942" r="47" fill="#94cb78" stroke="#6aa356" stroke-width="1.5"/>
<g fill="#b3dc9c"><circle cx="395" cy="910" r="4"/><circle cx="412" cy="902" r="3"/><circle cx="440" cy="902" r="4"/><circle cx="458" cy="915" r="3"/><circle cx="466" cy="940" r="4"/><circle cx="458" cy="965" r="3"/><circle cx="440" cy="980" r="4"/><circle cx="410" cy="982" r="3"/><circle cx="390" cy="968" r="4"/><circle cx="382" cy="940" r="3"/></g>
<circle cx="425" cy="945" r="30" fill="#7eba63"/>
<text x="425" y="940" font-size="19" text-anchor="middle" fill="#111">Active</text>
<text x="425" y="963" font-size="19" text-anchor="middle" fill="#111">CTL</text>
<rect x="3" y="420" width="538" height="599" fill="none" stroke="#262626" stroke-width="2.5"/>

<!-- ============ PANEL C ============ -->
<rect x="566" y="418" width="459" height="604" fill="#e4d4e4"/>
<g clip-path="url(#clipC)">
 <g fill="none" stroke="#d6c4d7" stroke-width="1">
  <path d="M580,640 q40,-15 80,0 t80,0"/><path d="M860,630 q40,-15 80,0 t80,0"/><path d="M580,900 q40,-15 80,0"/><path d="M930,990 q40,-15 80,0"/><path d="M600,1000 q40,-15 80,0"/>
 </g>
 <circle cx="677" cy="945" r="72" fill="url(#gRed)"/>
 <circle cx="806" cy="942" r="95" fill="url(#gPurp)"/>
 <circle cx="926" cy="945" r="85" fill="url(#gPurp)"/>
</g>
<text x="591" y="466" font-size="24" font-weight="bold" fill="#111">C)</text>
<g fill="#9e8ab4"><use href="#rod" transform="translate(617,480) rotate(-65) scale(1.5,1.6)"/><use href="#rod" transform="translate(832,441) rotate(-15) scale(1.8,1.6)"/><use href="#rod" transform="translate(865,458) rotate(-25) scale(1.4,1.6)"/></g>
<circle cx="628" cy="557" r="54" fill="#e8958b" stroke="#c9736a" stroke-width="1.5"/>
<ellipse cx="632" cy="560" rx="34" ry="28" fill="#d77670"/>
<g fill="#d37a72"><circle cx="600" cy="530" r="3"/><circle cx="590" cy="560" r="3"/><circle cx="610" cy="595" r="3"/><circle cx="660" cy="600" r="3"/><circle cx="615" cy="515" r="2.5"/></g>
<text x="631" y="573" font-size="22" text-anchor="middle" fill="#111">NK</text>
<circle cx="685" cy="493" r="54" fill="#8a4eb6" stroke="#6a3696" stroke-width="9" stroke-dasharray="9 7" stroke-linecap="round"/>
<circle cx="685" cy="493" r="54" fill="#8a4eb6" stroke="#8a4eb6" stroke-width="6" stroke-dasharray="9 7" stroke-linecap="round"/>
<path d="M650,470 C655,440 700,440 712,462 C722,480 715,520 690,530 C665,538 655,520 668,505 C678,495 645,495 650,470 Z" fill="#6f3b9d"/>
<text x="675" y="517" font-size="20" text-anchor="middle" fill="#fff">MN</text>
<path d="M713,465 L730,456" stroke="#b22c4a" stroke-width="3"/><path d="M727,448 q10,0 10,8 q0,8 -10,8" stroke="#b22c4a" stroke-width="4" fill="none"/>
<g fill="#6b3f91">
 <use href="#rod" transform="translate(757,446) rotate(-10) scale(1.8,1.6)"/>
 <use href="#rod" transform="translate(800,447) rotate(65) scale(1.8,1.6)"/>
 <use href="#rod" transform="translate(779,480) rotate(60) scale(1.8,1.6)"/>
 <use href="#rod" transform="translate(822,482) rotate(-70) scale(1.6,1.6)"/>
</g>
<text x="775" y="463" font-size="19" text-anchor="middle" fill="#111">BCG</text>
<circle cx="792" cy="577" r="61" fill="#e8847c" stroke="#c8645e" stroke-width="1.5"/>
<ellipse cx="795" cy="592" rx="40" ry="33" fill="#d76a66"/>
<g fill="#d77068"><circle cx="752" cy="560" r="3"/><circle cx="760" cy="610" r="3"/><circle cx="830" cy="555" r="3"/><circle cx="838" cy="600" r="3"/><circle cx="775" cy="545" r="2.5"/><circle cx="815" cy="630" r="2.5"/></g>
<line x1="783" y1="503" x2="783" y2="537" stroke="#c03858" stroke-width="3"/><circle cx="783" cy="502" r="5" fill="#c03858"/>
<path d="M812,527 L812,510" stroke="#b22c4a" stroke-width="3"/><path d="M804,504 q0,8 8,8 q8,0 8,-8" stroke="#b22c4a" stroke-width="4" fill="none"/>
<text x="743" y="515" font-size="13" fill="#111">NKp44</text>
<circle cx="938" cy="520" r="74" fill="#7d42a8" stroke="#5e2f88" stroke-width="12" stroke-dasharray="12 9" stroke-linecap="round"/>
<circle cx="938" cy="520" r="74" fill="#7d42a8" stroke="#7d42a8" stroke-width="9" stroke-dasharray="12 9" stroke-linecap="round"/>
<text x="821" y="515" font-size="13" fill="#111">TLR-2</text>
<g fill="#9a6ec2"><circle cx="890" cy="485" r="6"/><circle cx="978" cy="480" r="6"/><circle cx="885" cy="535" r="7"/><circle cx="975" cy="570" r="5"/><circle cx="910" cy="565" r="4"/></g>
<ellipse cx="920" cy="460" rx="25" ry="17" fill="#fff" stroke="#5e2f88"/>
<use href="#rod" transform="translate(920,460) rotate(35) scale(1.6,1.5)" fill="#6b3f91"/>
<circle cx="948" cy="533" r="32" fill="#5b2b84"/>
<text x="948" y="540" font-size="19" font-weight="bold" text-anchor="middle" fill="#fff">Mφ</text>
<line x1="797" y1="540" x2="797" y2="572" stroke="#222" stroke-width="2.2" marker-end="url(#ah)"/>
<rect x="767" y="575" width="61" height="30" fill="none" stroke="#222" stroke-width="2"/>
<rect x="790" y="585" width="31" height="12" rx="6" fill="#6b3f91"/>
<text x="805" y="594.5" font-size="9" font-weight="bold" text-anchor="middle" fill="#fff">NF-κB</text>
<path d="M788,596 L781,596 L781,590 L774,590" stroke="#222" stroke-width="1.5" fill="none"/>
<path d="M775,600 q4,-3 8,0 t8,0 t8,0 t8,0 t8,0" stroke="#7a4aa0" stroke-width="1.3" fill="none"/>
<g stroke="#222" stroke-width="2" stroke-dasharray="2 3"><line x1="767" y1="605" x2="607" y2="658"/><line x1="828" y1="605" x2="982" y2="658"/></g>
<rect x="607" y="658" width="375" height="154" fill="#fff" stroke="#222" stroke-width="2"/>
<rect x="743" y="665" width="29" height="13" rx="6" fill="#f7e6f3" stroke="#e2a0d0"/>
<text x="757.5" y="676" font-size="10.5" text-anchor="middle" fill="#111">PRC2</text>
<rect x="808" y="665" width="28" height="13" rx="6" fill="#e3e3f0" stroke="#8888aa"/>
<text x="822" y="676" font-size="10.5" text-anchor="middle" fill="#111">HATs</text>
<line x1="758" y1="680" x2="758" y2="732" stroke="#333" stroke-width="1" marker-end="url(#ahs)"/>
<line x1="823" y1="680" x2="823" y2="732" stroke="#333" stroke-width="1" marker-end="url(#ahs)"/>
<circle cx="716" cy="684" r="6.5" fill="#7a2a35"/><text x="716" y="687" font-size="7.5" text-anchor="middle" fill="#fff">Me</text>
<rect x="722" y="687" width="24" height="11" rx="4" fill="#7a2a35"/><text x="734" y="696" font-size="9" text-anchor="middle" fill="#fff">SAM</text>
<rect x="720" y="707" width="25" height="11" rx="4" fill="#7a2a35"/><text x="732.5" y="716" font-size="9" text-anchor="middle" fill="#fff">SAM</text>
<path d="M746,693 Q762,702 747,712" stroke="#333" stroke-width="1" fill="none" marker-end="url(#ahs)"/>
<rect x="827" y="687" width="58" height="11" rx="3" fill="#2b2a55"/><text x="856" y="696" font-size="9" text-anchor="middle" fill="#fff">Acetil-CoA</text>
<rect x="837" y="707" width="23" height="11" rx="3" fill="#2b2a55"/><text x="848.5" y="716" font-size="9" text-anchor="middle" fill="#fff">CoA</text>
<path d="M827,693 Q812,702 835,712" stroke="#333" stroke-width="1" fill="none" marker-end="url(#ahs)"/>
<text x="650" y="748" font-size="13" fill="#111">Histones</text>
<path d="M628,799 L655,799 Q665,798 668,790 M685,792 Q690,799 720,799 L738,799 Q748,798 750,790 M768,792 Q774,799 800,799 L822,799 Q832,798 835,790 M852,792 Q858,799 890,799 L905,799 Q915,798 918,790 M935,792 Q940,799 960,799" stroke="#3a3a6a" stroke-width="1.8" fill="none"/>
<g transform="translate(673,774) rotate(25)"><ellipse rx="15" ry="21" fill="#3aa3b8"/><ellipse cx="6" rx="15" ry="21" fill="#5cc2d2"/><path d="M-2,-20 Q6,0 -2,20 M4,-21 Q12,0 4,21" stroke="#1f6f8a" fill="none" stroke-width="1.8"/></g>
<g transform="translate(754,774) rotate(25)"><ellipse rx="15" ry="21" fill="#3aa3b8"/><ellipse cx="6" rx="15" ry="21" fill="#5cc2d2"/><path d="M-2,-20 Q6,0 -2,20 M4,-21 Q12,0 4,21" stroke="#1f6f8a" fill="none" stroke-width="1.8"/></g>
<g transform="translate(839,774) rotate(25)"><ellipse rx="15" ry="21" fill="#3aa3b8"/><ellipse cx="6" rx="15" ry="21" fill="#5cc2d2"/><path d="M-2,-20 Q6,0 -2,20 M4,-21 Q12,0 4,21" stroke="#1f6f8a" fill="none" stroke-width="1.8"/></g>
<g transform="translate(922,774) rotate(25)"><ellipse rx="15" ry="21" fill="#3aa3b8"/><ellipse cx="6" rx="15" ry="21" fill="#5cc2d2"/><path d="M-2,-20 Q6,0 -2,20 M4,-21 Q12,0 4,21" stroke="#1f6f8a" fill="none" stroke-width="1.8"/></g>
<g stroke="#7a2a35" stroke-width="1.5"><line x1="759" y1="749" x2="757" y2="757"/><line x1="733" y1="771" x2="742" y2="774"/><line x1="812" y1="776" x2="824" y2="778"/></g>
<g stroke="#6a6aa0" stroke-width="1.5"><line x1="823" y1="751" x2="828" y2="758"/><line x1="905" y1="751" x2="910" y2="758"/></g>
<circle cx="759" cy="743" r="7" fill="#7a2a35"/><text x="759" y="746" font-size="7.5" text-anchor="middle" fill="#fff">Me</text>
<circle cx="727" cy="770" r="7" fill="#7a2a35"/><text x="727" y="773" font-size="7.5" text-anchor="middle" fill="#fff">Me</text>
<circle cx="806" cy="775" r="7" fill="#7a2a35"/><text x="806" y="778" font-size="7.5" text-anchor="middle" fill="#fff">Me</text>
<circle cx="823" cy="746" r="7" fill="#2b2a55"/><text x="823" y="749" font-size="7.5" text-anchor="middle" fill="#fff">Ac</text>
<circle cx="905" cy="746" r="7" fill="#8f8ab8"/><text x="905" y="749" font-size="7.5" text-anchor="middle" fill="#fff">Ac</text>
<text x="865" y="790" font-size="13" fill="#111">DNA</text>
<path d="M798,812 V833 M702,833 H897 M702,833 V856 M897,833 V856" stroke="#222" stroke-width="2.5" fill="none"/>
<polygon points="694,853 710,853 702,866" fill="#222"/>
<polygon points="889,853 905,853 897,866" fill="#222"/>
<use href="#ga" x="729" y="876"/>
<text x="653" y="840" font-size="10.5" font-style="italic" text-anchor="middle" fill="#111">Mycobacterium</text>
<text x="653" y="854" font-size="10.5" text-anchor="middle" fill="#111">infection</text>
<text x="798" y="847" font-size="10.5" text-anchor="middle" fill="#111">Pro-in&#160; ammatory cytokines</text>
<text x="798" y="861" font-size="10.5" text-anchor="middle" fill="#111">(<tspan fill="#c85ac8">IFN-γ</tspan>, <tspan fill="#e58ac8">IL-1β</tspan>, <tspan fill="#5a9ad8">TNF-α</tspan>, <tspan fill="#c99a28" font-weight="bold">IL-6</tspan>)</text>
<text x="955" y="840" font-size="10.5" text-anchor="middle" fill="#111">Infection with other</text>
<text x="955" y="854" font-size="10.5" text-anchor="middle" fill="#111">pathogens</text>
<text x="955" y="868" font-size="10.5" font-style="italic" text-anchor="middle" fill="#111">S. aureus/C. albicans</text>
<circle cx="677" cy="945" r="38" fill="#e8847c" stroke="#c8645e" stroke-width="1.5"/>
<ellipse cx="690" cy="953" rx="25" ry="20" transform="rotate(-20 690 953)" fill="#d76a66"/>
<g fill="#d77068"><circle cx="665" cy="918" r="2.5"/><circle cx="680" cy="912" r="2.5"/><circle cx="655" cy="935" r="2.5"/><circle cx="695" cy="922" r="2.5"/></g>
<circle cx="806" cy="940" r="50" fill="#7d42a8" stroke="#5e2f88" stroke-width="9" stroke-dasharray="9 7" stroke-linecap="round"/>
<circle cx="806" cy="940" r="50" fill="#7d42a8" stroke="#7d42a8" stroke-width="6" stroke-dasharray="9 7" stroke-linecap="round"/>
<circle cx="800" cy="945" r="20" fill="#5e2f88"/>
<g fill="#a982cc"><circle cx="808" cy="902" r="3"/><circle cx="826" cy="925" r="3.5"/><circle cx="770" cy="925" r="3"/><circle cx="766" cy="954" r="3"/><circle cx="840" cy="955" r="3"/></g>
<circle cx="926" cy="945" r="43" fill="#7d42a8" stroke="#5e2f88" stroke-width="8" stroke-dasharray="9 7" stroke-linecap="round"/>
<circle cx="926" cy="945" r="43" fill="#7d42a8" stroke="#7d42a8" stroke-width="5" stroke-dasharray="9 7" stroke-linecap="round"/>
<path d="M905,945 C905,925 930,920 940,932 C950,945 945,965 925,968 C908,970 905,958 915,950 C920,945 905,952 905,945 Z" fill="#6a3496"/>
<g>
 <circle cx="664" cy="884" r="2.8" fill="#4aa0d0"/><circle cx="636" cy="902" r="2.8" fill="#5a3a8a"/><circle cx="651" cy="905" r="2.8" fill="#4aa0d0"/><circle cx="680" cy="896" r="2.8" fill="#5a3a8a"/><circle cx="719" cy="897" r="2.8" fill="#d8a030"/>
 <circle cx="629" cy="928" r="2.8" fill="#8a6ab0"/><circle cx="723" cy="922" r="2.8" fill="#5a3a8a"/><circle cx="630" cy="945" r="2.8" fill="#5a3a8a"/><circle cx="611" cy="962" r="2.8" fill="#5a3a8a"/><circle cx="629" cy="968" r="2.8" fill="#4aa0d0"/>
 <circle cx="723" cy="948" r="2.8" fill="#e06a90"/><circle cx="722" cy="970" r="2.8" fill="#e06a90"/><circle cx="637" cy="990" r="2.8" fill="#5a3a8a"/><circle cx="652" cy="998" r="2.8" fill="#4aa0d0"/><circle cx="672" cy="996" r="2.8" fill="#5a3a8a"/><circle cx="689" cy="996" r="2.8" fill="#8a6ab0"/><circle cx="712" cy="998" r="2.8" fill="#e06a90"/>
 <circle cx="775" cy="889" r="2.8" fill="#e05080"/><circle cx="806" cy="887" r="2.8" fill="#d8a030"/><circle cx="822" cy="896" r="2.8" fill="#e05080"/><circle cx="847" cy="895" r="2.8" fill="#4aa0d0"/><circle cx="756" cy="896" r="2.8" fill="#4aa0d0"/>
 <circle cx="742" cy="915" r="2.8" fill="#e890b8"/><circle cx="741" cy="964" r="2.8" fill="#4aa0d0"/><circle cx="736" cy="985" r="2.8" fill="#d8a030"/><circle cx="735" cy="1003" r="2.8" fill="#4aa0d0"/><circle cx="748" cy="995" r="2.8" fill="#4aa0d0"/><circle cx="762" cy="1005" r="2.8" fill="#e890b8"/><circle cx="798" cy="1008" r="2.8" fill="#d8a030"/><circle cx="822" cy="1010" r="2.8" fill="#e890b8"/><circle cx="832" cy="997" r="2.8" fill="#d8a030"/>
 <circle cx="861" cy="922" r="2.8" fill="#e05080"/><circle cx="864" cy="942" r="2.8" fill="#e05080"/><circle cx="870" cy="950" r="2.8" fill="#e05080"/><circle cx="864" cy="961" r="2.8" fill="#d8a030"/><circle cx="853" cy="977" r="2.8" fill="#4aa0d0"/><circle cx="868" cy="980" r="2.8" fill="#e890b8"/><circle cx="851" cy="994" r="2.8" fill="#4aa0d0"/><circle cx="871" cy="993" r="2.8" fill="#4aa0d0"/>
 <circle cx="877" cy="903" r="2.8" fill="#4aa0d0"/><circle cx="882" cy="917" r="2.8" fill="#4aa0d0"/><circle cx="897" cy="897" r="2.8" fill="#e890b8"/><circle cx="928" cy="889" r="2.8" fill="#e05080"/><circle cx="951" cy="895" r="2.8" fill="#4aa0d0"/>
 <circle cx="977" cy="909" r="2.8" fill="#d8a030"/><circle cx="995" cy="922" r="2.8" fill="#4aa0d0"/><circle cx="981" cy="953" r="2.8" fill="#e05080"/><circle cx="996" cy="953" r="2.8" fill="#4aa0d0"/><circle cx="974" cy="965" r="2.8" fill="#4aa0d0"/><circle cx="991" cy="977" r="2.8" fill="#d8a030"/><circle cx="964" cy="985" r="2.8" fill="#e890b8"/>
 <circle cx="890" cy="984" r="2.8" fill="#4aa0d0"/><circle cx="890" cy="1001" r="2.8" fill="#d8a030"/><circle cx="910" cy="1004" r="2.8" fill="#e890b8"/><circle cx="928" cy="995" r="2.8" fill="#4aa0d0"/><circle cx="955" cy="1000" r="2.8" fill="#d8a030"/><circle cx="985" cy="1001" r="2.8" fill="#4aa0d0"/><circle cx="927" cy="1006" r="2.8" fill="#4aa0d0"/>
</g>
<rect x="566" y="418" width="459" height="604" fill="none" stroke="#262626" stroke-width="2.5"/>
</svg>
</body></html>
